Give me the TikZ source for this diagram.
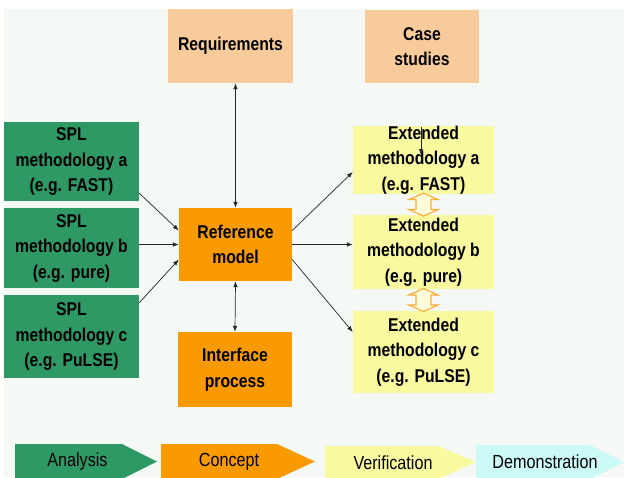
\documentclass[tikz,border=0pt]{standalone}
\usepackage{fontspec}
\setmainfont{Liberation Sans}[FakeStretch=0.85]
\usetikzlibrary{arrows.meta,calc}

\definecolor{bgcol}{HTML}{F5F9F6}
\definecolor{splgreen}{HTML}{2F9966}
\definecolor{refor}{HTML}{F89A00}
\definecolor{peach}{HTML}{F8CB9A}
\definecolor{lemon}{HTML}{F9F9A0}
\definecolor{icecyan}{HTML}{CCFAF7}
\definecolor{dblor}{HTML}{F8AE3A}

\begin{document}
\begin{tikzpicture}[x=1pt, y=-1pt, >={Latex[length=6pt,width=4.5pt]},
    box/.style={align=center, inner sep=0pt, font=\fontsize{18.5}{25.5}\selectfont\bfseries},
    link/.style={draw=black!85, line width=0.7pt},
    dblarr/.style={draw=dblor, fill=yellow!15, line width=1.2pt, line join=miter},
    phase/.style={font=\fontsize{19}{21}\selectfont}]
            \useasboundingbox (0,0) rectangle (624,477);
            \fill[bgcol] (4,9) rectangle (624,477);

            \node[box, fill=peach, minimum width=125pt, minimum height=74pt] (req) at (230.5,46) {Requirements};
            \node[box, fill=peach, minimum width=114pt, minimum height=73pt] (case) at (422,46.5) {Case\\studies};

            \node[box, fill=splgreen, minimum width=135pt, minimum height=79pt] (spla) at (71.5,161.5) {SPL\\methodology a\\(e.g. FAST)};
            \node[box, fill=splgreen, minimum width=135pt, minimum height=80pt] (splb) at (71.5,248) {SPL\\methodology b\\(e.g. pure)};
            \node[box, fill=splgreen, minimum width=135pt, minimum height=83pt] (splc) at (71.5,336.5) {SPL\\methodology c\\(e.g. PuLSE)};

            \node[box, fill=refor, minimum width=113pt, minimum height=73pt] (ref) at (235.5,244.5) {Reference\\model};
            \node[box, fill=refor, minimum width=114pt, minimum height=75pt] (intf) at (235,369.5) {Interface\\process};

            \node[box, fill=lemon, minimum width=141pt, minimum height=66pt] (exta) at (423.5,160) {Extended\\methodology a\\(e.g. FAST)};
            \node[box, fill=lemon, minimum width=141pt, minimum height=74pt] (extb) at (423.5,252) {Extended\\methodology b\\(e.g. pure)};
            \node[box, fill=lemon, minimum width=141pt, minimum height=82pt] (extc) at (423.5,352) {Extended\\methodology c\\(e.g. PuLSE)};

            \draw[link, <->] (req.south -| ref.north) -- (ref.north);
            \draw[link, <->] (ref.south) -- (intf.north);
            \draw[link, ->] ([yshift=8pt]spla.south east) -- ([yshift=14pt]ref.west);
            \draw[link, ->] (splb.east |- ref.west) -- (ref.west);
            \draw[link, ->] ([yshift=-8pt]splc.north east) -- ([yshift=-15pt]ref.west);
            \draw[link, ->] ([yshift=14pt]ref.east) -- ([yshift=-12pt]exta.west);
            \draw[link, ->] (ref.east) -- (ref.east -| extb.west);
            \draw[link, ->] ([yshift=-15pt]ref.east) -- ([yshift=20pt]extc.west);

            \coordinate (stubtop) at (421,127);
            \coordinate (stubend) at (421,155);
            \draw[link, ->] (stubtop) -- (stubend);

            % hollow double arrows between the extended methodologies
            \coordinate (ab) at ($(exta.south)!0.5!(extb.north)$);
            \coordinate (bc) at ($(extb.south)!0.5!(extc.north)$);
            \foreach \c in {ab,bc}
              \draw[dblarr, shift={(\c)}] (0,-11.5) -- (14.5,-5) -- (7.5,-5) -- (7.5,5) -- (14.5,5) -- (0,11.5)
                -- (-14.5,5) -- (-7.5,5) -- (-7.5,-5) -- (-14.5,-5) -- cycle;

            % phases
            \fill[splgreen] (15,444) -- (122,444) -- (157,461.5) -- (122,479) -- (15,479) -- cycle;
            \fill[refor] (161,444) -- (277,444) -- (315,461.5) -- (277,479) -- (161,479) -- cycle;
            \fill[lemon] (325,446) -- (438,446) -- (476,462) -- (438,479) -- (325,479) -- cycle;
            \fill[icecyan] (476,445) -- (590,445) -- (624,462) -- (590,479) -- (476,479) -- cycle;
            \node[phase] (analysis) at (77.5,462) {Analysis};
            \node[phase] (concept) at (229,462) {Concept};
            \node[phase] (verif) at (393,463) {Verification};
            \node[phase] (demo) at (545,462) {Demonstration};
        \end{tikzpicture}
\end{document}
